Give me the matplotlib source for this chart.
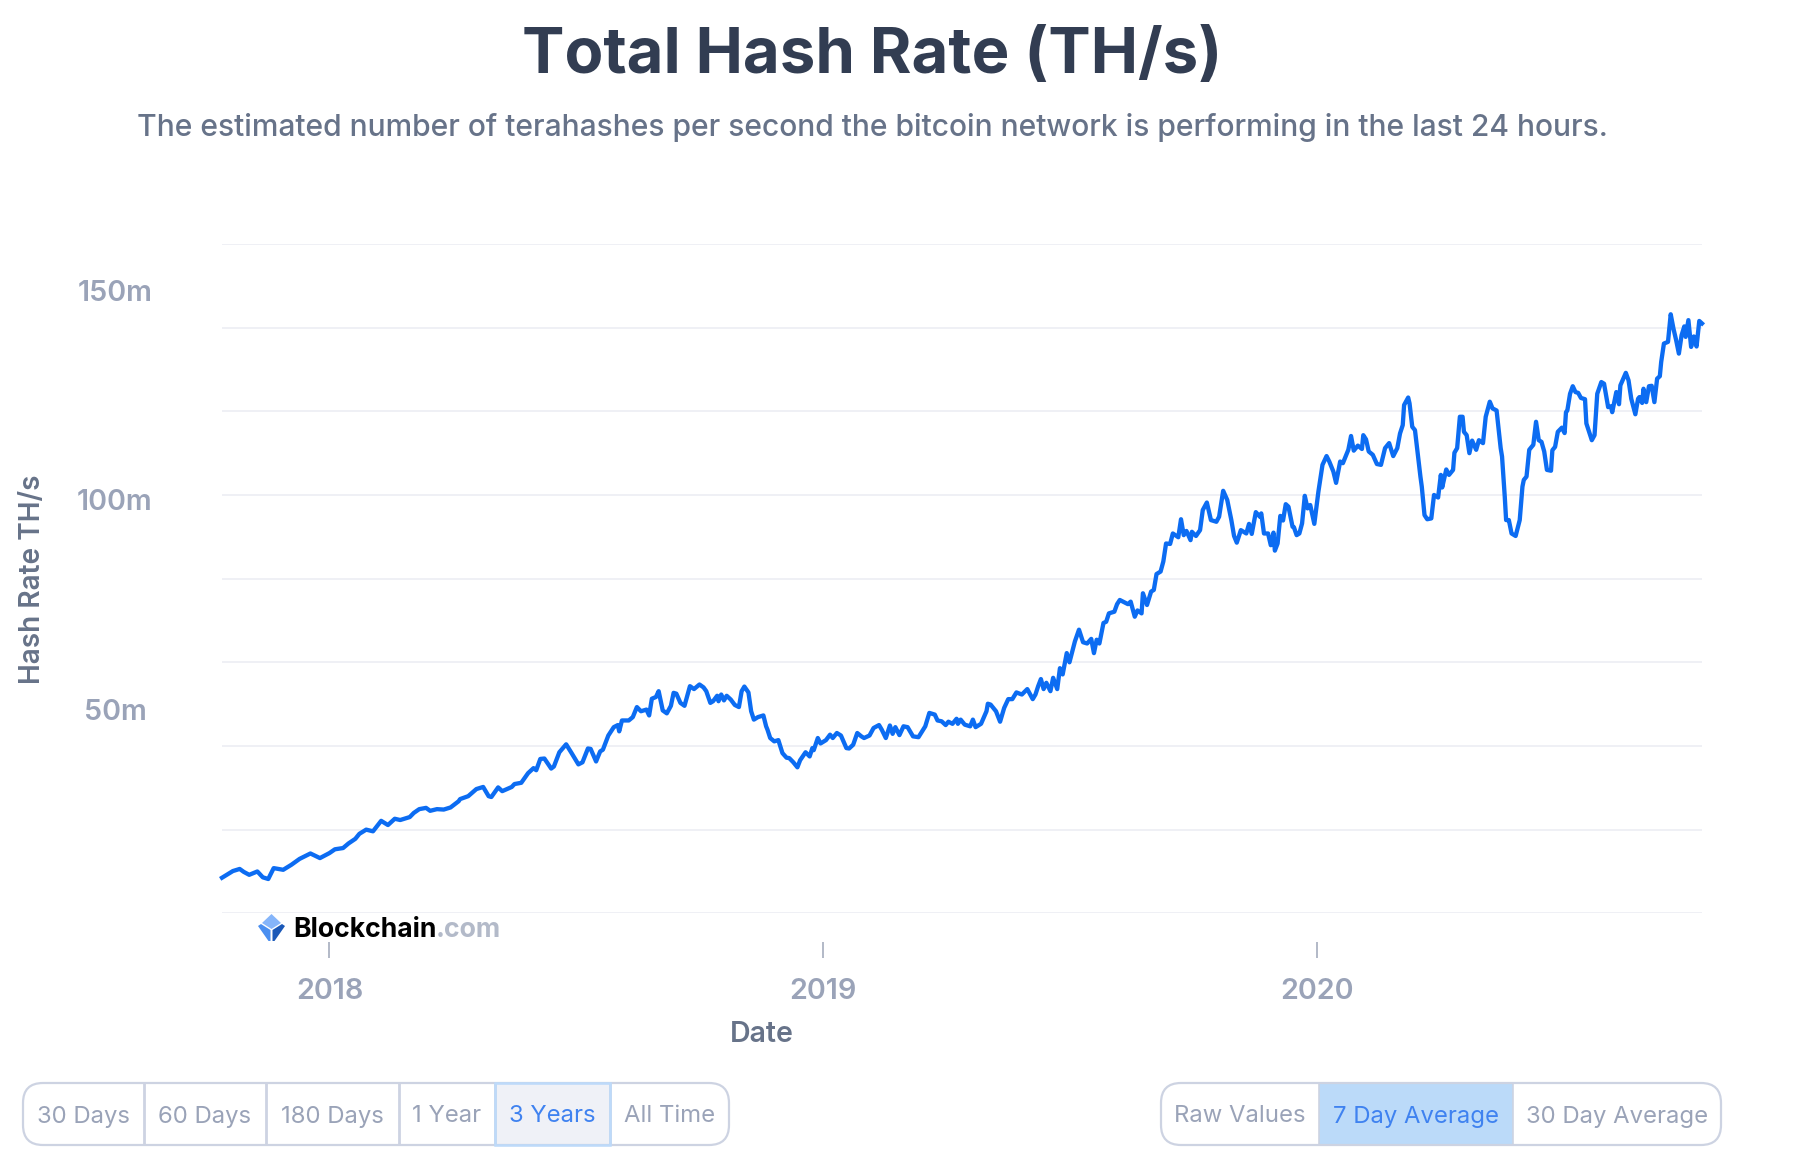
import matplotlib
matplotlib.use("Agg")
import matplotlib.pyplot as plt
from matplotlib.patches import FancyBboxPatch, Polygon, Rectangle

plt.rcParams['font.family'] = ['Inter', 'DejaVu Sans']

# ---- data (x = days along the 3-year window, y = million TH/s) ----
sample_day = [
 0,4,8,13,16,20,23,26,30,34,38,45,51,57,65,72,79,83,89,93,98,101,106,111,117,122,127,131,138,141,
 145,150,153,158,163,168,174,175,181,187,192,196,198,203,206,213,215,220,225,229,231,234,237,242,244,248,253,257,262,265,
 269,271,275,278,280,284,288,291,292,294,299,302,305,308,312,314,316,319,321,324,327,330,332,334,337,340,344,347,351,354,
 356,359,361,364,365,367,369,371,374,377,380,382,384,387,389,391,394,398,400,401,403,406,409,412,415,417,420,423,425,429,
 432,434,435,438,440,444,447,449,452,455,459,461,464,467,470,472,476,479,483,485,488,491,493,495,498,501,504,508,512,517,
 520,524,526,529,532,534,537,540,541,543,546,550,552,554,558,562,563,565,569,572,575,578,581,584,588,592,596,598,600,602,
 604,606,609,611,614,616,618,621,623,627,630,633,636,639,641,643,645,648,650,652,656,658,660,666,668,671,673,676,677,680,
 683,685,687,690,692,694,697,699,703,705,707,709,712,713,716,719,721,724,727,731,733,736,739,742,744,746,749,753,755,757,
 760,763,764,766,769,771,773,774,776,778,780,782,784,787,788,790,792,794,796,798,800,803,806,809,812,814,817,819,822,824,
 828,830,832,835,838,839,841,843,846,849,852,855,858,861,864,866,868,869,872,873,875,877,879,881,882,884,886,889,891,894,
 896,897,900,902,905,906,908,910,912,913,915,917,919,922,924,927,929,932,934,937,940,941,943,944,946,948,951,953,954,956,
 957,959,961,964,966,968,970,972,974,977,978,980,982,985,987,988,989,991,993,995,997,999,1002,1003,1007,1009,1011,1014,1016,1019,
 1021,1022,1025,1027,1028,1032,1034,1036,1039,1041,1042,1044,1045,1047,1049,1051,1053,1055,1057,1058,1060,1063,1065,1067,1069,1071,1073,1075,1076,1078,
 1080,1082,1084,1086,1088,
]
hash_rate_m = [
 8.5,9.3,10.1,10.6,9.9,9.2,9.6,10.0,8.6,8.2,10.8,10.4,11.6,13.0,14.3,13.2,14.4,15.3,15.6,16.7,17.8,19.0,20.0,19.6,22.1,21.1,22.6,22.3,23.0,24.0,
 24.9,25.2,24.5,24.9,24.8,25.3,26.8,27.3,28.0,29.7,30.2,28.0,27.8,30.1,29.2,30.2,30.9,31.2,33.5,34.7,34.2,36.9,37.0,34.6,35.1,38.5,40.4,38.3,35.6,36.1,
 39.4,39.3,36.3,38.7,39.1,42.5,44.5,45.0,43.5,46.1,46.1,46.9,49.3,48.3,48.7,47.3,51.3,51.7,53.1,48.5,47.8,49.6,52.7,52.5,50.3,49.6,54.3,53.6,54.7,54.0,
 53.1,50.3,50.7,52.0,50.7,52.3,50.9,52.0,51.1,49.8,49.3,53.1,54.2,52.8,48.3,46.3,46.9,47.3,44.7,43.9,41.9,41.1,41.4,38.3,37.2,37.1,36.1,34.9,36.6,38.5,
 37.5,39.5,39.0,41.9,40.6,41.4,42.7,41.9,43.1,42.5,39.5,39.4,40.3,43.1,42.3,41.9,42.5,44.3,45.0,43.9,41.9,44.9,42.9,44.5,42.6,44.7,44.5,42.3,42.1,44.7,
 47.9,47.5,46.1,45.9,45.0,45.8,45.3,46.5,45.3,46.3,45.1,44.7,46.3,44.5,45.3,48.3,50.1,49.9,48.3,45.8,49.1,51.2,51.2,52.8,52.3,53.6,51.2,52.3,54.3,56.0,
 53.6,55.1,53.1,56.3,53.6,58.6,57.1,62.2,60.0,65.0,67.8,64.8,64.5,65.6,62.2,65.4,64.5,69.4,69.7,71.7,72.1,73.9,74.9,73.9,74.5,70.9,72.4,71.7,76.5,73.7,
 76.9,77.3,81.1,81.7,84.1,88.4,88.3,90.8,89.9,94.2,90.4,91.4,89.2,91.2,90.2,91.6,96.4,98.2,94.0,93.6,94.8,101.0,98.8,94.0,90.2,88.6,91.6,90.8,93.1,90.7,
 95.9,94.8,95.6,90.8,90.8,88.0,91.0,86.7,88.4,95.0,93.9,97.8,97.2,92.4,92.3,90.4,90.8,93.2,99.8,96.8,97.6,93.1,100.8,107.2,109.3,108.0,105.6,102.9,108.0,107.6,
 110.8,114.1,110.6,111.8,111.0,114.3,113.3,110.4,109.6,107.4,107.2,111.2,112.4,109.3,111.2,114.7,116.7,121.5,123.3,121.9,116.3,115.5,110.0,104.4,102.0,95.2,94.2,94.4,100.0,99.4,
 104.8,101.8,106.1,104.8,106.0,110.1,111.2,118.7,118.7,115.1,114.3,110.0,113.0,110.8,113.1,112.4,118.7,122.3,120.7,120.2,111.2,109.2,99.6,94.0,94.0,90.8,90.2,92.8,94.0,102.0,
 103.6,104.4,110.8,112.0,117.5,113.1,112.7,110.4,106.0,105.8,110.7,111.5,115.1,116.1,114.8,119.8,120.2,124.2,126.0,124.6,124.4,123.2,122.9,117.1,113.1,114.3,124.2,127.0,126.6,121.0,
 121.2,119.8,124.6,121.7,126.2,129.2,127.4,123.0,119.3,123.0,123.4,122.0,125.4,122.2,126.0,126.1,122.2,127.8,128.4,131.8,136.2,136.6,143.2,139.8,137.0,133.8,138.2,140.3,137.8,141.8,
 135.4,137.9,135.5,141.6,141.0,
]
grid_values = [0, 20, 40, 60, 80, 100, 120, 140, 160]
y_label_values = [50, 100, 150]
y_labels = ["50m", "100m", "150m"]
year_tick_days = [79, 442, 805]
year_labels = ["2018", "2019", "2020"]

range_buttons = ["30 Days", "60 Days", "180 Days", "1 Year", "3 Years", "All Time"]
avg_buttons = ["Raw Values", "7 Day Average", "30 Day Average"]

W, H = 1794, 1164
fig = plt.figure(figsize=(W / 100, H / 100), dpi=100, facecolor="white")

# pixel-space overlay for page furniture
ov = fig.add_axes([0, 0, 1, 1], zorder=0)
ov.set_xlim(0, W); ov.set_ylim(H, 0); ov.axis("off")

INK = "#323d52"; SLATE = "#677389"; MUTED = "#9aa3b8"; BLUE = "#3f82f0"; BORDER = "#cdd3e2"

ov.text(872, 57, "Total Hash Rate (TH/s)", ha="center", va="center", fontsize=45.7,
        fontweight="bold", color=INK)
ov.text(872, 127, "The estimated number of terahashes per second the bitcoin network is performing in the last 24 hours.",
        ha="center", va="center", fontsize=21.6, fontweight="medium", color=SLATE)
ov.text(33, 579, "Hash Rate TH/s", rotation=90, ha="center", va="center", fontsize=20.2,
        fontweight="semibold", color=SLATE)
ov.text(762, 1035, "Date", ha="center", va="center", fontsize=20.5, fontweight="semibold", color=SLATE)

# main chart
ax = fig.add_axes([222 / W, 1 - 913.3 / H, (1702 - 222) / W, (913.3 - 244) / H], zorder=1)
ax.patch.set_alpha(0)
ax.set_xlim(0, 1088)
ax.set_ylim(0, 160)
for s in ax.spines.values():
    s.set_visible(False)
ax.spines["bottom"].set_position(("outward", 29 * 0.72))
ax.set_yticks(grid_values)
ax.set_yticklabels([])
ax.tick_params(axis="y", length=0)
ax.grid(axis="y", color="#ecedf3", lw=1.2)
ax.set_axisbelow(True)
ax.set_xticks(year_tick_days, year_labels)
ax.tick_params(axis="x", direction="out", length=11.5, width=1.2, color="#a5adbd", pad=14,
               labelsize=20.7, labelcolor=MUTED)
for t in ax.get_xticklabels():
    t.set_fontweight("semibold")
ax.plot(sample_day, hash_rate_m, color="#0c6cf2", lw=3.1, solid_joinstyle="round", clip_on=False, zorder=3)
for val, lab in zip(y_label_values, y_labels):
    ax.annotate(lab, xy=(0, val), xycoords=ax.get_yaxis_transform(), xytext=(-107, -8),
                textcoords="offset pixels", ha="center", va="center", fontsize=20.7,
                fontweight="semibold", color=MUTED)

# logo
ov2 = fig.add_axes([0, 0, 1, 1], zorder=2)
ov2.set_xlim(0, W); ov2.set_ylim(H, 0); ov2.axis("off"); ov2.patch.set_alpha(0)
ov2.add_patch(Polygon([(271.5, 914), (281, 923), (271.5, 929), (262, 923)], fc="#85b5fa", ec="none"))
ov2.add_patch(Polygon([(258, 926), (261, 924), (270.5, 930), (270.5, 941), (268.5, 941)], fc="#4a8ff0", ec="none"))
ov2.add_patch(Polygon([(285, 926), (282, 924), (272.5, 930), (272.5, 941), (274.5, 941)], fc="#1a58b8", ec="none"))
ov2.text(293, 930, "Blockchain", ha="left", va="center", fontsize=19.2, fontweight="bold", color="black")
ov2.text(436, 930, ".com", ha="left", va="center", fontsize=19.2, fontweight="bold", color="#b3bac9")


def button_group(x0, x1, y0, y1, seps, labels, active, active_fill, active_edge):
    edges = [x0] + seps + [x1]
    clip = FancyBboxPatch((x0, y0), x1 - x0, y1 - y0, boxstyle="round,pad=0,rounding_size=20",
                          fc="white", ec="none", transform=ov.transData)
    ov.add_patch(clip)
    a0, a1 = edges[active], edges[active + 1]
    r = Rectangle((a0, y0), a1 - a0, y1 - y0, fc=active_fill, ec="none", zorder=2)
    ov.add_patch(r)
    r.set_clip_path(clip)
    for sx in seps:
        ov.plot([sx, sx], [y0, y1], color=BORDER, lw=2.0 if len(labels) > 3 else 1.2, zorder=3, solid_capstyle="butt")
    if active_edge:
        ov.add_patch(Rectangle((a0, y0), a1 - a0, y1 - y0, fc="none", ec=active_edge, lw=1.8, zorder=4))
    ov.add_patch(FancyBboxPatch((x0, y0), x1 - x0, y1 - y0, boxstyle="round,pad=0,rounding_size=20",
                                fc="none", ec=BORDER, lw=1.6, zorder=3))
    for i, lab in enumerate(labels):
        ov.text((edges[i] + edges[i + 1]) / 2, (y0 + y1) / 2 + 2.5, lab, ha="center", va="center",
                fontsize=17.2, color=BLUE if i == active else MUTED, zorder=5)


button_group(23, 729, 1083, 1145, [144, 266, 399, 495, 610], range_buttons, 4, "#eff1f7", "#bddafa")
button_group(1161, 1721, 1083, 1145, [1319, 1513], avg_buttons, 1, "#bbdaf9", None)

fig.savefig("out.png", dpi=100)
